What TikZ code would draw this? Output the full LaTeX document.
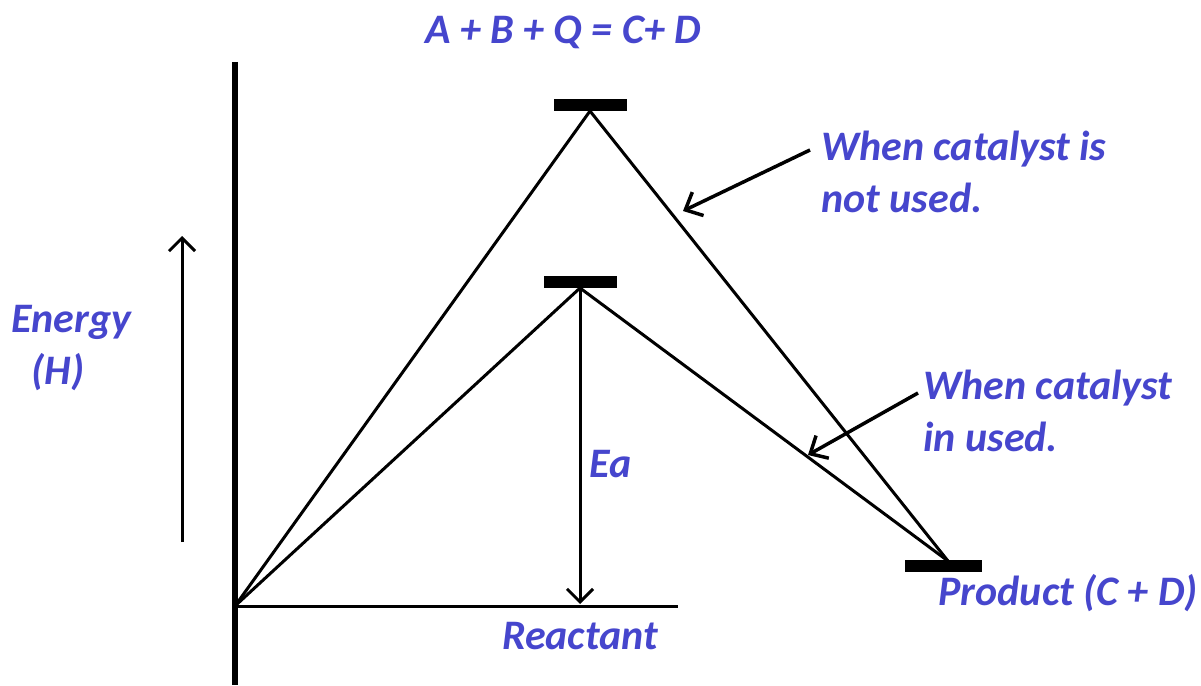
\documentclass[tikz,border=0pt]{standalone}
\usepackage{fontspec}
\setmainfont{Carlito}
\usetikzlibrary{arrows.meta}
\definecolor{labelblue}{RGB}{70,70,205}
\tikzset{
  lbl/.style={text=labelblue, font=\fontsize{42}{52}\selectfont\bfseries\itshape, inner sep=0pt},
  bar/.style={fill=black, inner sep=0pt, minimum width=73pt, minimum height=12pt},
  pointer/.style={-{Straight Barb[length=14pt, width=26pt, line width=3.5pt]}, line width=3.5pt},
}
\begin{document}
\begin{tikzpicture}[x=1pt, y=-1pt, line width=3pt]
\useasboundingbox (0,0) rectangle (1201,685);
% Axes
\coordinate (O) at (235,606);
\draw[line width=6pt] (235,62) -- (235,685);
\draw (O) -- (678,606) coordinate (xend);
% Energy levels
\node[bar] (high) at (590,105) {};
\node[bar] (low) at (580,282) {};
\node[bar, minimum width=77pt] (prod) at (943,566) {};
\coordinate (hp) at (590,111);
\coordinate (lp) at (580,288);
\coordinate (pp) at (948,561);
% Reaction paths
\draw (O) -- (hp) -- (pp);
\draw (O) -- (lp) -- (pp);
% Activation energy
\draw[-{Straight Barb[length=13pt, width=26pt, line width=3pt]}] (lp) -- (580,604) coordinate (eaend);
\node[lbl, anchor=base west] (ea) at (588,477) {Ea};
% Energy direction
\coordinate (en1) at (182,542);
\coordinate (en2) at (182,236);
\draw[-{Straight Barb[length=13pt, width=26pt, line width=3pt]}] (en1) -- (en2);
\node[lbl, anchor=base west, align=left] (energy) at (10,384) {Energy\\\hspace*{20pt}(H)};
% Labels
\node[lbl] (eq) at (563,32) {A + B + Q = C+ D};
\node[lbl, anchor=base west, align=left] (nocat) at (820,212) {When catalyst is\\not used.};
\node[lbl, anchor=base west, align=left] (cat) at (922,451) {When catalyst\\in used.};
\node[lbl, anchor=base west] (product) at (937,605) {Product (C + D)};
\node[lbl] (reactant) at (580,636) {Reactant};
% Pointers
\coordinate (nc1) at (810,150);
\coordinate (nc2) at (683,211);
\draw[pointer] (nc1) -- (nc2);
\coordinate (c1) at (918,393);
\coordinate (c2) at (808,455);
\draw[pointer] (c1) -- (c2);
\end{tikzpicture}
\end{document}
